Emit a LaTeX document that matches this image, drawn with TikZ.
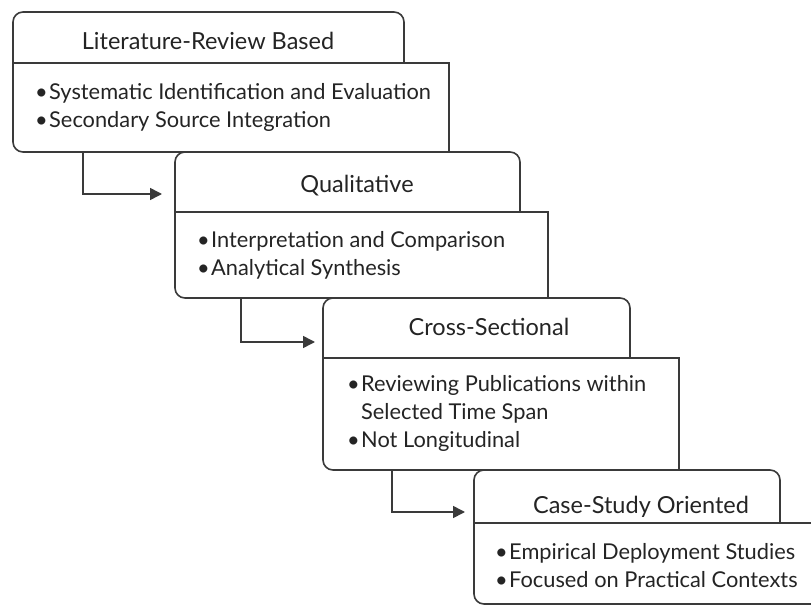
\documentclass[tikz,border=0pt]{standalone}
\usepackage{fontspec}
\setmainfont{Lato}
\usetikzlibrary{positioning,arrows.meta}
\definecolor{linegray}{HTML}{3A3A3A}
\definecolor{textgray}{HTML}{242424}
\begin{document}
\begin{tikzpicture}[
    x=1pt, y=-1pt,
    % Frame styles (invisible nodes, outlines drawn below)
    frame/.style={inner sep=0pt, outer sep=0pt, anchor=north west},
    box-line/.style={draw=linegray, line width=1.6pt},
    round-line/.style={box-line, rounded corners=10pt},
    % Arrow
    flow/.style={draw=linegray, line width=1.6pt, -{Triangle[length=12pt, width=12pt]}},
    % Text
    head-text/.style={anchor=base, text=textgray, font=\fontsize{23.5}{28}\selectfont},
    list-text/.style={anchor=base west, align=left, text=textgray, inner sep=0pt, font=\fontsize{21.8}{28}\selectfont},
]
\useasboundingbox (0,0) rectangle (811,607);

\newcommand{\bul}{\makebox[14pt][l]{\textbullet}}

% === FRAMES ===
\node[frame, minimum width=391pt, minimum height=51pt] (lit-title) at (13,12) {};
\node[frame, minimum width=436pt, minimum height=89pt] (lit-body) at (lit-title.south west) {};

\node[frame, minimum width=345pt, minimum height=60pt] (qual-title) at (175,152) {};
\node[frame, minimum width=373pt, minimum height=86pt] (qual-body) at (qual-title.south west) {};

\node[frame, minimum width=307pt, minimum height=60pt] (cross-title) at (323,298) {};
\node[frame, minimum width=356pt, minimum height=112pt] (cross-body) at (cross-title.south west) {};

\node[frame, minimum width=306pt, minimum height=53pt] (case-title) at (474,470) {};
\node[frame, minimum width=360pt, minimum height=81pt] (case-body) at (case-title.south west) {};

% outlines: rounded top corners and bottom-left corner
\foreach \blk in {lit, qual, cross, case} {
    \draw[round-line] (\blk-body.south east) -- (\blk-body.south west)
        -- (\blk-title.north west) -- (\blk-title.north east) -- (\blk-title.south east);
    \draw[box-line] (\blk-title.south west) -- (\blk-body.north east) -- (\blk-body.south east);
}

% === TITLES ===
\node[head-text] (lit-head) at (208,50) {Literature-Review Based};
\node[head-text] (qual-head) at (357,192) {Qualitative};
\node[head-text] (cross-head) at (489,335) {Cross-Sectional};
\node[head-text] (case-head) at (641,513) {Case-Study Oriented};

% === LISTS (base = last line) ===
\node[list-text] (lit-list) at (35,128) {\bul Systematic Identification and Evaluation\\\bul Secondary Source Integration};
\node[list-text] (qual-list) at (197,275) {\bul Interpretation and Comparison\\\bul Analytical Synthesis};
\node[list-text] (cross-list) at (347,447) {\bul Reviewing Publications within\\\hspace*{14pt}Selected Time Span\\\bul Not Longitudinal};
\node[list-text] (case-list) at (495,587) {\bul Empirical Deployment Studies\\\bul Focused on Practical Contexts};

% === ARROWS ===
\draw[flow] ([xshift=70pt]lit-body.south west) |- ([xshift=-13pt, yshift=18pt]qual-body.north west);
\draw[flow] ([xshift=66pt]qual-body.south west) |- ([xshift=-8pt, yshift=16pt]cross-body.north west);
\draw[flow] ([xshift=69pt]cross-body.south west) |- ([xshift=-9pt, yshift=11pt]case-body.north west);

\end{tikzpicture}
\end{document}
